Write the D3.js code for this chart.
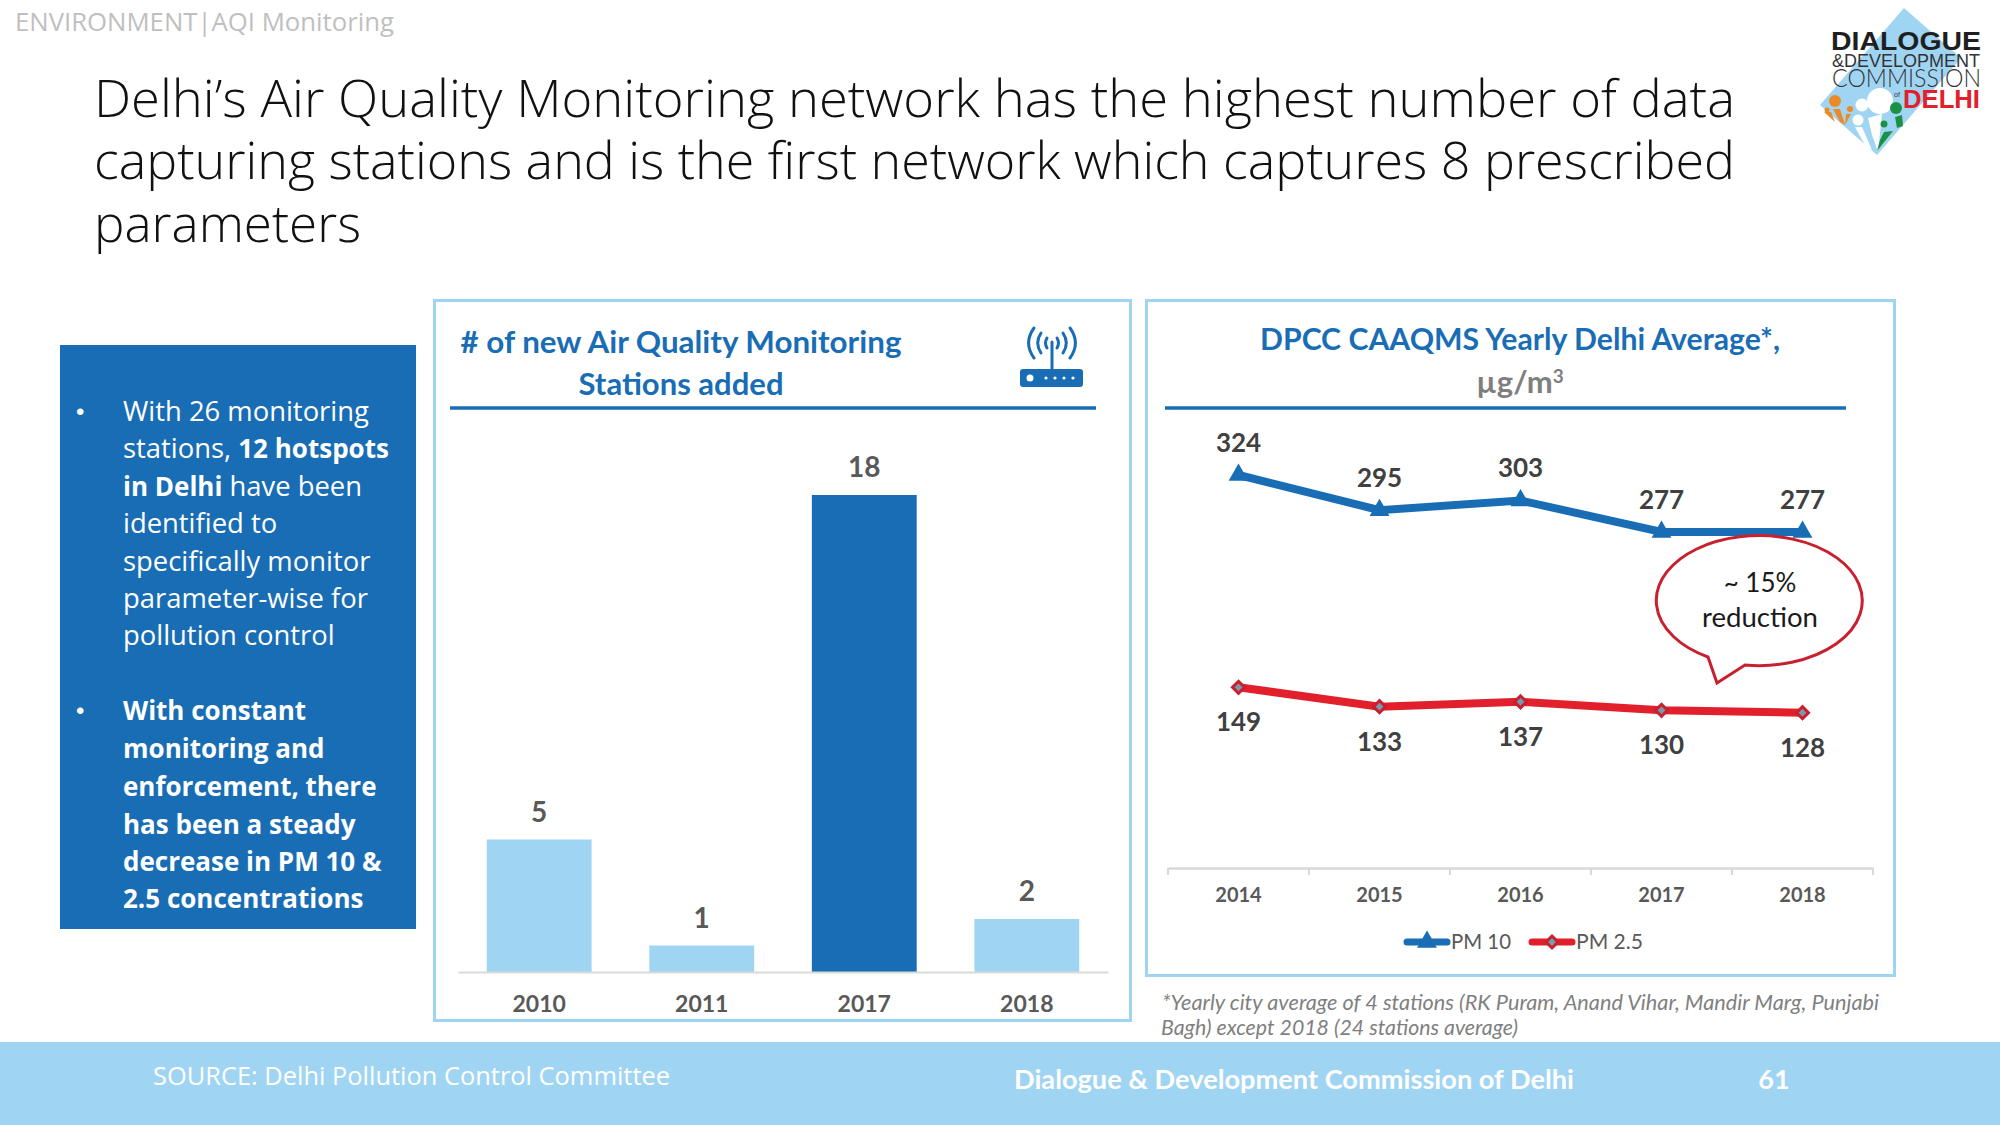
<!DOCTYPE html>
<html><head><meta charset="utf-8">
<script src="https://cdn.jsdelivr.net/npm/d3@7/dist/d3.min.js"></script>
<style>html,body{margin:0;padding:0;background:#fff}svg{display:block}</style></head>
<body><div id="c"></div>
<script>
const barYears = ["2010","2011","2017","2018"];
const barValues = [5,1,18,2];
const highlightYear = "2017";
const lineYears = ["2014","2015","2016","2017","2018"];
const pm10 = [324,295,303,277,277];
const pm25 = [149,133,137,130,128];
const titleLines = ["Delhi\u2019s Air Quality Monitoring network has the highest number of data","capturing stations and is the first network which captures 8 prescribed","parameters"];

const BLUE="#196db5",LIGHT="#9fd5f3",RED="#e2202c",GREY="#595959";
const CAL="Lato, Carlito, sans-serif",SEG="'Open Sans', sans-serif";
const svg=d3.select("#c").append("svg").attr("width",2000).attr("height",1125).attr("viewBox","0 0 2000 1125");
function txt(s,x,y,size,fill,o={}){
  const t=svg.append("text").attr("x",x).attr("y",y).attr("font-size",size).attr("fill",fill)
   .attr("font-family",o.f||CAL).attr("font-weight",o.w||400).attr("text-anchor",o.a||"start");
  if(o.i)t.attr("font-style","italic");
  if(o.len)t.attr("textLength",o.len).attr("lengthAdjust","spacingAndGlyphs");
  t.text(s);return t;
}
// header
txt("ENVIRONMENT|AQI Monitoring",15,31,25,"#bfbfbf",{f:SEG,len:379});
const titleWidths=[1641,1641,267];
titleLines.forEach((l,i)=>txt(l,94,[117,179,242][i],52,"#111",{f:SEG,w:300,len:titleWidths[i]}));

// logo
const logo=svg.append("g");
logo.append("path").attr("d","M1904 8L1961 58L1877 155L1820 105Z").attr("fill",LIGHT);
const circ=(x,y,r,f)=>logo.append("circle").attr("cx",x).attr("cy",y).attr("r",r).attr("fill",f);
const blob=(d,f)=>logo.append("path").attr("d",d).attr("fill",f);
circ(1835,101,6,"#ec8a26");circ(1850,109,3,"#ec8a26");circ(1827,110,2.5,"#ec8a26");
blob("M1824 112L1831 112L1835 122Z","#ec8a26");blob("M1833 109L1840 109L1845 125L1840 122Z","#ec8a26");blob("M1846 114L1851 114L1845 125Z","#ec8a26");
circ(1880,101,13,"#fff");circ(1862,105,6.5,"#fff");circ(1858,120,5.5,"#fff");
blob("M1855 127L1862 127L1872 150L1865 145Z","#fff");blob("M1868 118L1882 114L1878 152L1872 135Z","#fff");
circ(1896,108,6,"#1a9145");circ(1884,124,3.5,"#1a9145");
blob("M1895 117L1902 115L1903 126L1897 128Z","#1a9145");blob("M1884 132L1893 131L1877 151L1880 140Z","#1a9145");
txt("DIALOGUE",1831,50,25,"#1f1f1f",{f:"Liberation Sans",w:700,len:150});
txt("&DEVELOPMENT",1832,67,19,"#333",{f:"Liberation Sans",len:148});
txt("COMMISSION",1832,87,25,"#333",{f:"Lato",w:300,len:149});
txt("of",1894,97,7,"#333",{f:"Liberation Sans"});
txt("DELHI",1903,108,25,RED,{f:"Liberation Sans",w:700,len:77});

// left box
svg.append("rect").attr("x",60).attr("y",345).attr("width",356).attr("height",584).attr("fill",BLUE);
const body=[
 [["With 26 monitoring",0]],[["stations, ",0],["12 hotspots",1]],[["in Delhi",1],[" have been",0]],[["identified to",0]],[["specifically monitor",0]],[["parameter-wise for",0]],[["pollution control",0]],
 [["With constant",1]],[["monitoring and",1]],[["enforcement, there",1]],[["has been a steady",1]],[["decrease in PM 10 &",1]],[["2.5 concentrations",1]]];
const ys=[412,449,487,524,562,599,636,711,749,787,825,862,899];
body.forEach((l,i)=>{
  const t=txt("",123,ys[i]+9,27,"#fff",{f:SEG});
  l.forEach(p=>t.append("tspan").attr("font-weight",p[1]?700:400).attr("font-size",p[1]?26:27.4).text(p[0]));
});
[412,711].forEach(y=>txt("\u2022",76,y+8,24,"#fff",{f:"Liberation Sans"}));

// panels
const panel=(x,y,w,h)=>svg.append("rect").attr("x",x).attr("y",y).attr("width",w).attr("height",h).attr("fill","#fff").attr("stroke",LIGHT).attr("stroke-width",3);
panel(434.5,300.5,696,720);panel(1146.5,300.5,748,675);

// bar panel
txt("# of new Air Quality Monitoring",681,353,30,BLUE,{w:700,a:"middle",len:441});
txt("Stations added",681,395,30,BLUE,{w:700,a:"middle",len:205});
svg.append("line").attr("x1",450).attr("x2",1096).attr("y1",408).attr("y2",408).attr("stroke",BLUE).attr("stroke-width",3.5);
// router icon
const ic=svg.append("g").attr("stroke",BLUE).attr("fill","none").attr("stroke-width",3).attr("stroke-linecap","round");
ic.append("line").attr("x1",1052).attr("x2",1052).attr("y1",342).attr("y2",370);
[[5,5],[11,10],[18,15]].forEach(([dx,dy])=>{
  ic.append("path").attr("d",`M${1052-dx} ${343-dy}Q${1052-dx*1.6} 343 ${1052-dx} ${343+dy}`);
  ic.append("path").attr("d",`M${1052+dx} ${343-dy}Q${1052+dx*1.6} 343 ${1052+dx} ${343+dy}`);
});
svg.append("rect").attr("x",1020).attr("y",369).attr("width",63).attr("height",18).attr("rx",3).attr("fill",BLUE);
svg.append("circle").attr("cx",1030).attr("cy",378).attr("r",3.5).attr("fill","#fff");
[1046,1055,1064,1073].forEach(x=>svg.append("circle").attr("cx",x).attr("cy",378).attr("r",1.6).attr("fill","#fff"));

const bx=d3.scaleBand().domain(barYears).range([458,1108]).paddingInner(.355).paddingOuter(.177);
const by=d3.scaleLinear().domain([0,18]).range([972,495]);
svg.selectAll(".bar").data(barYears).join("rect").attr("class","bar")
 .attr("x",d=>bx(d)).attr("width",bx.bandwidth())
 .attr("y",(d,i)=>by(barValues[i])).attr("height",(d,i)=>by(0)-by(barValues[i]))
 .attr("fill",d=>d===highlightYear?BLUE:LIGHT);
svg.selectAll(".bl").data(barYears).join("text").attr("class","bl")
 .attr("x",d=>bx(d)+bx.bandwidth()/2).attr("y",(d,i)=>by(barValues[i])-18)
 .attr("text-anchor","middle").attr("font-family",CAL).attr("font-weight",700).attr("font-size",28).attr("fill",GREY)
 .text((d,i)=>barValues[i]);
const ba=svg.append("g").attr("transform","translate(0,972)").call(d3.axisBottom(bx).tickSize(0).tickPadding(24));
ba.select(".domain").attr("stroke","#d9d9d9").attr("stroke-width",2);
ba.selectAll("text").attr("font-family",CAL).attr("font-weight",700).attr("font-size",23).attr("fill",GREY);

// line panel
txt("DPCC CAAQMS Yearly Delhi Average*,",1520,350,30,BLUE,{w:700,a:"middle",len:520});
const unit=txt("\u00b5g/m",1520,393,31,"#7f7f7f",{w:700,a:"middle"});
unit.append("tspan").attr("dy",-10).attr("font-size",19).text("3");
svg.append("line").attr("x1",1165).attr("x2",1846).attr("y1",408).attr("y2",408).attr("stroke",BLUE).attr("stroke-width",3.5);

const lx=d3.scaleBand().domain(lineYears).range([1168,1873]);
const ly=d3.scaleLinear().domain([0,324]).range([868,475]);
const mx=d=>lx(d)+lx.bandwidth()/2;
const la=svg.append("g").attr("transform","translate(0,868)").call(d3.axisBottom(lx).tickSize(0).tickPadding(20));
la.select(".domain").attr("stroke","#d9d9d9").attr("stroke-width",2.5);
la.selectAll("text").attr("font-family",CAL).attr("font-weight",700).attr("font-size",20).attr("fill",GREY);
svg.selectAll(".lt").data(lx.domain().map(d=>lx(d)).concat([1873])).join("line").attr("class","lt")
 .attr("x1",d=>d).attr("x2",d=>d).attr("y1",868).attr("y2",875).attr("stroke","#d9d9d9").attr("stroke-width",2);
const line=d3.line().x((d,i)=>mx(lineYears[i])).y(d=>ly(d));
function marker(sel,kind){
  if(kind==="tri") sel.attr("d",d3.symbol().type(d3.symbolTriangle).size(170)).attr("fill",BLUE);
  else sel.attr("d",d3.symbol().type(d3.symbolSquare).size(72)).attr("fill","#7c98ac").attr("stroke","#c8202f").attr("stroke-width",3);
}
function series(vals,color,kind,off){
  svg.append("path").attr("d",line(vals)).attr("fill","none").attr("stroke",color).attr("stroke-width",8).attr("stroke-linecap","round");
  marker(svg.selectAll(null).data(vals).join("path")
   .attr("transform",(d,i)=>`translate(${mx(lineYears[i])},${ly(d)})`+(kind==="tri"?"":" rotate(45)")),kind);
  svg.selectAll(null).data(vals).join("text").attr("x",(d,i)=>mx(lineYears[i])).attr("y",d=>ly(d)+off)
   .attr("text-anchor","middle").attr("font-family",CAL).attr("font-weight",700).attr("font-size",26).attr("fill","#404040").text(d=>d);
}
series(pm10,BLUE,"tri",-23);
series(pm25,RED,"dia",44);

// legend
[[1404,1450,BLUE,"tri","PM 10"],[1529,1575,RED,"dia","PM 2.5"]].forEach(([a,b,c,k,l])=>{
  svg.append("line").attr("x1",a+3).attr("x2",b-3).attr("y1",942).attr("y2",942).attr("stroke",c).attr("stroke-width",7).attr("stroke-linecap","round");
  marker(svg.append("path").attr("transform",`translate(${(a+b)/2},942)`+(k==="tri"?"":" rotate(45)")),k);
  txt(l,b+1,949,21,"#595959",{len:l==="PM 10"?60:67});
});

// callout
svg.append("path").attr("d","M1708 657 A103 65 0 1 1 1745 665 L1717 683 Z").attr("fill","#fff").attr("stroke","#c8202f").attr("stroke-width",3);
txt("~ 15%",1760,592,26,"#1a1a1a",{a:"middle"});
txt("reduction",1760,627,26,"#1a1a1a",{a:"middle",len:116});

// footnote
txt("*Yearly city average of 4 stations (RK Puram, Anand Vihar, Mandir Marg, Punjabi",1162,1010,21,"#7f7f7f",{i:1,len:717});
txt("Bagh) except 2018 (24 stations average)",1161,1035,21,"#7f7f7f",{i:1,len:357});

// footer
svg.append("rect").attr("x",0).attr("y",1042).attr("width",2000).attr("height",83).attr("fill",LIGHT);
txt("SOURCE: Delhi Pollution Control Committee",153,1085,25,"#fff",{f:SEG,len:517});
txt("Dialogue & Development Commission of Delhi",1014,1089,27,"#fff",{w:700,len:560});
txt("61",1774,1089,27,"#fff",{w:700,a:"middle"});
</script></body></html>
